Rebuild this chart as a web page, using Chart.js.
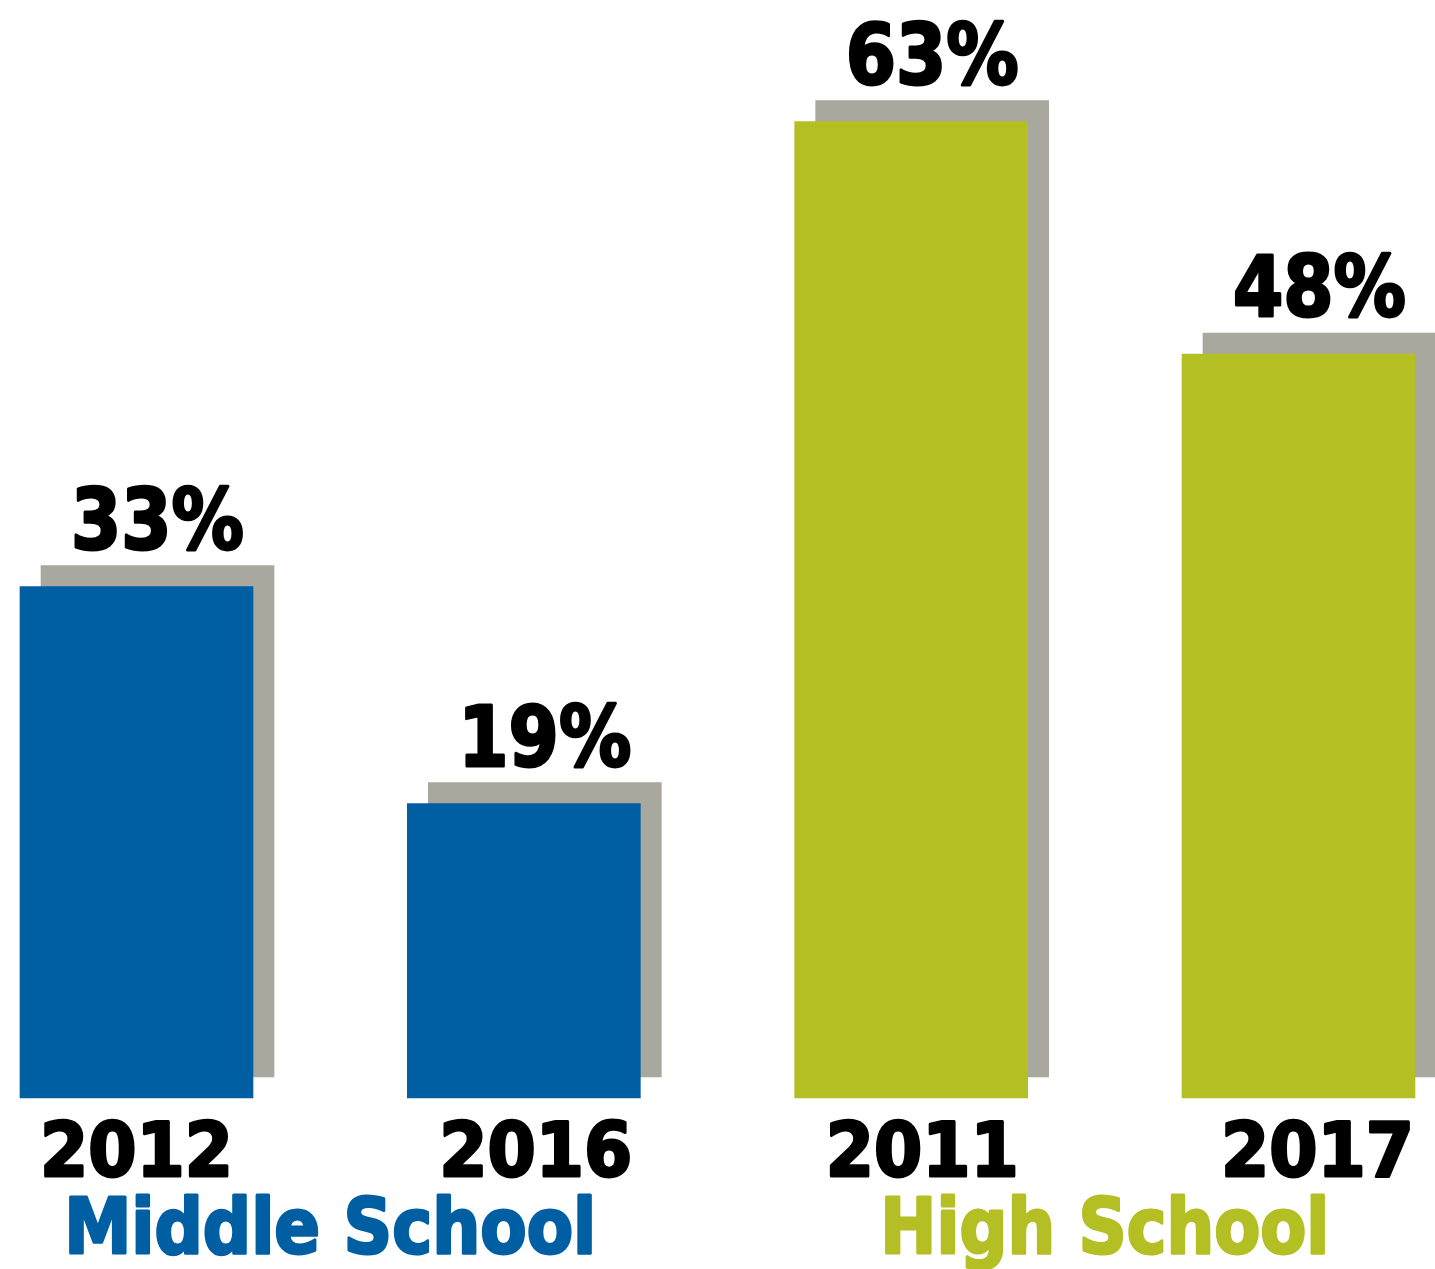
<!DOCTYPE html>
<html>
<head>
<meta charset="utf-8">
<script src="https://cdn.jsdelivr.net/npm/chart.js@4"></script>
<style>
  html, body { margin: 0; padding: 0; background: #fff; }
  #wrap { width: 1435px; height: 1269px; }
</style>
</head>
<body>
<div id="wrap"><canvas id="chart"></canvas></div>
<script>
// Data
const years = ['2012', '2016', '2011', '2017'];
const values = [33, 19, 63, 48];
const groups = ['Middle School', 'High School'];

const BLUE = '#005fa3';
const GREEN = '#b4bf24';
const GRAY = '#a9a89f';
const barColors = [BLUE, BLUE, GREEN, GREEN];
const groupColors = [BLUE, GREEN];

const SHIFT = 21;
const yearNudge = [0, 12, 11, 19];

// Draw heavy text squeezed to a given width
const drawText = (ctx, text, x, y, size, width, color) => {
  ctx.save();
  ctx.font = `bold ${size}px "DejaVu Sans"`;
  ctx.fillStyle = color;
  ctx.strokeStyle = color;
  ctx.lineJoin = 'round';
  ctx.textAlign = 'center';
  ctx.textBaseline = 'alphabetic';
  const w = ctx.measureText(text).width;
  ctx.translate(x, y);
  ctx.scale(width / w, 1);
  ctx.lineWidth = 3;
  ctx.strokeText(text, 0, 0);
  ctx.fillText(text, 0, 0);
  ctx.restore();
};

// Offset the shadow dataset up and right
const shadowPlugin = {
  id: 'shadow',
  beforeDatasetDraw(chart, args) {
    if (args.index !== 1) return;
    chart.ctx.save();
    chart.ctx.translate(SHIFT, -SHIFT);
  },
  afterDatasetDraw(chart, args) {
    if (args.index !== 1) return;
    chart.ctx.restore();
  },
};

// Value, year and group labels
const labelPlugin = {
  id: 'labels',
  afterDatasetsDraw(chart) {
    const ctx = chart.ctx;
    const bars = chart.getDatasetMeta(0).data;
    bars.forEach((bar, i) => {
      drawText(ctx, values[i] + '%', bar.x + SHIFT, bar.y - SHIFT - 17, 83, 173, '#000');
      drawText(ctx, years[i], bar.x + yearNudge[i], 1176, 75, 193, '#000');
    });
    const mid1 = (bars[0].x + bars[1].x) / 2;
    const mid2 = (bars[2].x + bars[3].x) / 2;
    drawText(ctx, groups[0], mid1, 1253, 76, 532, groupColors[0]);
    drawText(ctx, groups[1], mid2, 1253, 76, 449, groupColors[1]);
  },
};

new Chart(document.getElementById('chart'), {
  type: 'bar',
  data: {
    labels: years,
    datasets: [
      {
        data: values,
        backgroundColor: barColors,
        borderWidth: 0,
        barThickness: 233,
      },
      {
        data: values,
        backgroundColor: GRAY,
        borderWidth: 0,
        barThickness: 233,
      },
    ],
  },
  options: {
    responsive: true,
    maintainAspectRatio: false,
    animation: false,
    events: [],
    layout: {
      padding: { left: 136.5, right: 136.5, top: 13, bottom: 171 },
    },
    datasets: { bar: { grouped: false, clip: false } },
    scales: {
      x: { display: false, offset: false },
      y: { display: false, min: 0, max: 70 },
    },
    plugins: {
      legend: { display: false },
      tooltip: { enabled: false },
    },
  },
  plugins: [shadowPlugin, labelPlugin],
});
</script>
</body>
</html>
